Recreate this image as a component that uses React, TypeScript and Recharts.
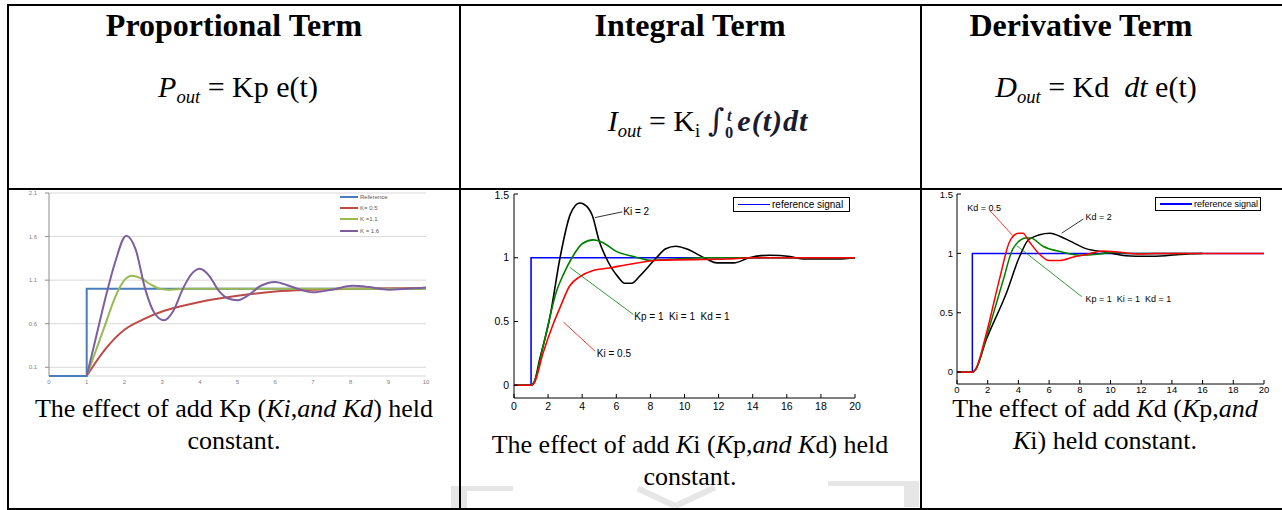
import React from 'react';
import { LineChart, Line, XAxis, YAxis, CartesianGrid, Legend, ReferenceLine, ReferenceDot } from 'recharts';

// ---- Proportional term (Excel style), x 0..10
const pXTicks = [0, 1, 2, 3, 4, 5, 6, 7, 8, 9, 10];
const pYTicks = [0.1, 0.6, 1.1, 1.6, 2.1];
const pReference = [[0, 0], [1, 0], [1, 1], [10, 1]];
const pK05 = [[1, 0], [1.5, 0.31], [2, 0.53], [2.5, 0.65], [3, 0.74], [3.5, 0.8], [4, 0.85], [5, 0.92], [6, 0.97], [7, 0.99], [8, 1.0], [10, 1.01]];
const pK11 = [[1, 0], [1.25, 0.3], [1.5, 0.6], [1.75, 0.9], [2, 1.1], [2.2, 1.15], [2.45, 1.12], [2.7, 1.05], [2.95, 1.0], [3.2, 0.99], [3.6, 1.0], [10, 1.0]];
const pK16 = [[1, 0], [1.25, 0.45], [1.5, 0.9], [1.75, 1.3], [2.05, 1.61], [2.3, 1.45], [2.55, 1.0], [2.8, 0.72], [3.05, 0.64], [3.3, 0.75], [3.55, 1.0], [3.8, 1.18], [4.0, 1.23], [4.25, 1.15], [4.5, 0.98], [4.75, 0.89], [5.0, 0.87], [5.3, 0.93], [5.6, 1.03], [6.0, 1.08], [6.4, 1.03], [7.0, 0.96], [7.5, 0.99], [8.05, 1.035], [8.5, 1.02], [9.0, 0.99], [9.5, 1.0], [10, 1.015]];
const pLegendNames = ['Reference', 'K= 0.5', 'K =1.1', 'K = 1.6'];
const pColors = ['#4A7EBB', '#BE4B48', '#98B954', '#7D5FA0'];

// ---- Integral term (MATLAB style), x 0..20
const iXTicks = [0, 2, 4, 6, 8, 10, 12, 14, 16, 18, 20];
const iYTicks = [0, 0.5, 1, 1.5];
const iReference = [[0, 0], [1, 0], [1, 1], [20, 1]];
const iKi2 = [[0, 0], [1, 0], [1.2, 0.03], [1.5, 0.2], [2.1, 0.53], [2.7, 1.0], [3.3, 1.34], [3.85, 1.43], [4.1, 1.42], [4.6, 1.33], [5.0, 1.13], [5.4, 1.0], [6.1, 0.85], [6.5, 0.8], [6.9, 0.8], [7.4, 0.86], [8.35, 1.0], [8.9, 1.07], [9.5, 1.09], [10.1, 1.07], [11.3, 0.99], [11.9, 0.96], [12.9, 0.96], [13.8, 1.0], [15, 1.02], [16.2, 1.01], [17, 0.99], [19, 0.99], [20, 1.0]];
const iKi1 = [[0, 0], [1, 0], [1.2, 0.03], [1.7, 0.3], [2.5, 0.74], [2.9, 0.87], [3.4, 1.0], [4.0, 1.11], [4.64, 1.14], [5.2, 1.12], [6.0, 1.05], [7.0, 1.01], [8.0, 0.98], [9.5, 0.99], [11, 1.0], [20, 1.0]];
const iKi05 = [[0, 0], [1, 0], [1.2, 0.02], [1.7, 0.25], [2.3, 0.48], [2.7, 0.61], [3.27, 0.78], [3.85, 0.85], [4.64, 0.9], [5.6, 0.92], [6.6, 0.945], [8.55, 0.98], [12.5, 0.99], [14, 1.0], [20, 1.0]];

// ---- Derivative term (MATLAB style), x 0..20
const dXTicks = [0, 2, 4, 6, 8, 10, 12, 14, 16, 18, 20];
const dYTicks = [0, 0.5, 1, 1.5];
const dReference = [[0, 0], [1, 0], [1, 1], [20, 1]];
const dKd2 = [[0, 0], [1, 0], [1.2, 0.02], [1.9, 0.27], [3.2, 0.66], [4.1, 0.98], [4.7, 1.12], [6.05, 1.17], [7.1, 1.12], [8.4, 1.04], [9.7, 1.01], [11, 0.98], [12.3, 0.975], [13.6, 0.98], [15, 0.995], [16, 1.0]];
const dKd1 = [[0, 0], [1, 0], [1.2, 0.02], [1.9, 0.29], [3.0, 0.77], [3.65, 1.04], [4.5, 1.13], [4.8, 1.13], [5.6, 1.06], [6.9, 1.01], [8.0, 0.985], [9.3, 0.995], [10.2, 1.01], [11, 1.0], [16, 1.0]];
const dKd05 = [[0, 0], [1, 0], [1.2, 0.02], [1.9, 0.32], [2.8, 0.8], [3.43, 1.1], [4.0, 1.17], [4.3, 1.17], [4.7, 1.1], [5.4, 0.99], [6.0, 0.94], [6.7, 0.94], [7.6, 0.97], [8.4, 0.99], [9.5, 1.02], [10.6, 1.01], [11.9, 0.995], [13, 1.0], [20, 1.0]];

const toPts = (rows: number[][]) => rows.map(([x, y]) => ({ x, y }));

const serif = '"Liberation Serif", "Times New Roman", serif';
const sans = '"Liberation Sans", Arial, sans-serif';
const mathInk = '#1b1b2e';

const Sub = ({ children, italic = true }: { children: React.ReactNode; italic?: boolean }) => (
  <span style={{ fontSize: '0.62em', fontStyle: italic ? 'italic' : 'normal', position: 'relative', top: '0.3em' }}>{children}</span>
);
const M = ({ children }: { children: React.ReactNode }) => <span style={{ fontStyle: 'italic' }}>{children}</span>;

const Center = ({ cx, top, size, bold, children, lh }: { cx: number; top: number; size: number; bold?: boolean; lh?: number; children: React.ReactNode }) => (
  <div
    style={{
      position: 'absolute',
      left: cx - 250,
      width: 500,
      top,
      textAlign: 'center',
      fontFamily: serif,
      fontSize: size,
      fontWeight: bold ? 'bold' : 'normal',
      lineHeight: `${lh ?? size}px`,
      whiteSpace: 'nowrap',
      color: '#000',
    }}
  >
    {children}
  </div>
);

const ExcelLegend = () => (
  <div style={{ fontFamily: sans, fontSize: 6, color: '#595959' }}>
    {pLegendNames.map((name, i) => (
      <div key={name} style={{ display: 'flex', alignItems: 'center', height: 11.3 }}>
        <div style={{ width: 18, height: 2, background: pColors[i], marginRight: 2 }} />
        <span>{name}</span>
      </div>
    ))}
  </div>
);

const MatlabLegend = ({ w, size, line }: { w: number; size: number; line: number }) => (
  <div
    style={{
      width: w,
      height: size + 5,
      border: '1px solid #000',
      background: '#fff',
      boxSizing: 'border-box',
      display: 'flex',
      alignItems: 'center',
      fontFamily: sans,
      fontSize: size,
      color: '#000',
    }}
  >
    <div style={{ width: line, height: 1.5, background: '#0000FF', marginLeft: 4, marginRight: 2 }} />
    <span>reference signal</span>
  </div>
);

const ProportionalChart = () => (
  <LineChart width={440} height={212} margin={{ top: 5, right: 14, left: 9, bottom: 4 }}>
    <CartesianGrid vertical={false} stroke="#d9d9d9" />
    <XAxis type="number" dataKey="x" domain={[0, 10]} ticks={pXTicks} axisLine={false} tickLine={false} tickSize={0} tickMargin={4} height={20} tick={{ fontSize: 6, fill: '#7f7f7f', fontFamily: sans }} />
    <YAxis type="number" domain={[0, 2.1]} ticks={pYTicks} width={40} axisLine={{ stroke: '#8c8c8c' }} tickLine={{ stroke: '#8c8c8c' }} tickSize={4} tickMargin={8} tick={{ fontSize: 6, fill: '#7f7f7f', fontFamily: sans }} />
    <Legend layout="vertical" align="center" verticalAlign="middle" wrapperStyle={{ left: 340, top: 3, width: 80 }} content={() => <ExcelLegend />} />
    <Line data={toPts(pReference)} dataKey="y" type="linear" stroke={pColors[0]} strokeWidth={2} dot={false} isAnimationActive={false} />
    <Line data={toPts(pK05)} dataKey="y" type="monotone" stroke={pColors[1]} strokeWidth={2} dot={false} isAnimationActive={false} />
    <Line data={toPts(pK11)} dataKey="y" type="monotone" stroke={pColors[2]} strokeWidth={2} dot={false} isAnimationActive={false} />
    <Line data={toPts(pK16)} dataKey="y" type="monotone" stroke={pColors[3]} strokeWidth={2} dot={false} isAnimationActive={false} />
  </LineChart>
);

const frameAxes = (xTicks: number[], yTicks: number[], font: number, xMargin: number, yMargin: number, yWidth: number, xHeight: number) => [
  <XAxis key="xb" type="number" dataKey="x" domain={[0, 20]} ticks={xTicks} height={xHeight} axisLine={{ stroke: '#000' }} tickLine={{ stroke: '#000' }} tickSize={-4} tickMargin={xMargin} tick={{ fontSize: font, fill: '#000', fontFamily: sans }} />,
  <XAxis key="xt" xAxisId="top" orientation="top" type="number" dataKey="x" domain={[0, 20]} ticks={xTicks} height={0} axisLine={{ stroke: '#000' }} tickLine={{ stroke: '#000' }} tickSize={-4} tick={false} />,
  <YAxis key="yl" type="number" domain={[-0.1, 1.5]} ticks={yTicks} width={yWidth} axisLine={{ stroke: '#000' }} tickLine={{ stroke: '#000' }} tickSize={-4} tickMargin={yMargin} tick={{ fontSize: font, fill: '#000', fontFamily: sans }} />,
  <YAxis key="yr" yAxisId="right" orientation="right" type="number" domain={[-0.1, 1.5]} ticks={yTicks} width={0} axisLine={{ stroke: '#000' }} tickLine={{ stroke: '#000' }} tickSize={-4} tick={false} />,
];

const annot = (x: number, y: number, text: string, font: number) => (
  <ReferenceDot x={x} y={y} r={0} fill="none" stroke="none" label={{ value: text, position: 'right', offset: 1, fontSize: font, fill: '#000', fontFamily: sans }} />
);

const IntegralChart = () => (
  <LineChart width={410} height={225} margin={{ top: 4, right: 15, left: 14, bottom: 2 }}>
    {frameAxes(iXTicks, iYTicks, 10.5, 9, 9, 40, 15)}
    <Legend layout="vertical" align="center" verticalAlign="middle" wrapperStyle={{ left: 273, top: 7, width: 117 }} content={() => <MatlabLegend w={117} size={10} line={32} />} />
    <Line data={toPts(iReference)} dataKey="y" type="linear" stroke="#0000FF" strokeWidth={1.6} dot={false} isAnimationActive={false} />
    <Line data={toPts(iKi2)} dataKey="y" type="monotone" stroke="#000000" strokeWidth={1.6} dot={false} isAnimationActive={false} />
    <Line data={toPts(iKi1)} dataKey="y" type="monotone" stroke="#008000" strokeWidth={1.6} dot={false} isAnimationActive={false} />
    <Line data={toPts(iKi05)} dataKey="y" type="monotone" stroke="#FF0000" strokeWidth={1.6} dot={false} isAnimationActive={false} />
    <ReferenceLine segment={[{ x: 4.75, y: 1.315 }, { x: 6.35, y: 1.36 }]} stroke="#000" strokeWidth={0.8} />
    <ReferenceLine segment={[{ x: 3.28, y: 0.924 }, { x: 7.0, y: 0.555 }]} stroke="#008000" strokeWidth={0.8} />
    <ReferenceLine segment={[{ x: 2.9, y: 0.495 }, { x: 4.75, y: 0.268 }]} stroke="#FF0000" strokeWidth={0.8} />
    {annot(6.35, 1.36, 'Ki = 2', 10)}
    {annot(7.0, 0.54, 'Kp = 1\u00a0 Ki = 1\u00a0 Kd = 1', 10)}
    {annot(4.8, 0.248, 'Ki = 0.5', 10)}
  </LineChart>
);

const DerivativeChart = () => (
  <LineChart width={355} height={205} margin={{ top: 4, right: 13, left: 5, bottom: 1 }}>
    {frameAxes(dXTicks, dYTicks, 9.5, 6, 8, 30, 10)}
    <Legend layout="vertical" align="center" verticalAlign="middle" wrapperStyle={{ left: 233, top: 7, width: 106 }} content={() => <MatlabLegend w={106} size={9} line={32} />} />
    <Line data={toPts(dReference)} dataKey="y" type="linear" stroke="#0000FF" strokeWidth={1.5} dot={false} isAnimationActive={false} />
    <Line data={toPts(dKd2)} dataKey="y" type="monotone" stroke="#000000" strokeWidth={1.5} dot={false} isAnimationActive={false} />
    <Line data={toPts(dKd1)} dataKey="y" type="monotone" stroke="#008000" strokeWidth={1.5} dot={false} isAnimationActive={false} />
    <Line data={toPts(dKd05)} dataKey="y" type="monotone" stroke="#FF0000" strokeWidth={1.5} dot={false} isAnimationActive={false} />
    <ReferenceLine segment={[{ x: 2.15, y: 1.36 }, { x: 3.63, y: 1.15 }]} stroke="#FF0000" strokeWidth={0.8} />
    <ReferenceLine segment={[{ x: 6.82, y: 1.17 }, { x: 8.23, y: 1.29 }]} stroke="#000" strokeWidth={0.8} />
    <ReferenceLine segment={[{ x: 3.89, y: 1.065 }, { x: 8.12, y: 0.636 }]} stroke="#008000" strokeWidth={0.8} />
    {annot(0.6, 1.386, 'Kd = 0.5', 9)}
    {annot(8.3, 1.31, 'Kd = 2', 9)}
    {annot(8.3, 0.617, 'Kp = 1\u00a0 Ki = 1\u00a0 Kd = 1', 9)}
  </LineChart>
);

const line = (style: React.CSSProperties) => <div style={{ position: 'absolute', background: '#000', ...style }} />;
const mark = (style: React.CSSProperties) => <div style={{ position: 'absolute', background: '#e6e6e6', ...style }} />;

export default function App() {
  return (
    <div style={{ position: 'absolute', left: 0, top: 0, width: 1282, height: 510, background: '#fff', overflow: 'hidden' }}>
      {/* faint watermark */}
      {mark({ left: 451, top: 486, width: 62, height: 5 })}
      {mark({ left: 451, top: 486, width: 16, height: 24 })}
      {mark({ left: 636, top: 494, width: 40, height: 6, transform: 'rotate(25deg)' })}
      {mark({ left: 672, top: 494, width: 45, height: 6, transform: 'rotate(-25deg)' })}
      {mark({ left: 828, top: 481, width: 90, height: 5 })}
      {mark({ left: 904, top: 481, width: 15, height: 26 })}

      {/* table rules */}
      {line({ left: 7, top: 4, width: 1280, height: 2 })}
      {line({ left: 7, top: 188, width: 1280, height: 2 })}
      {line({ left: 7, top: 508, width: 1280, height: 2 })}
      {line({ left: 7, top: 4, width: 2, height: 506 })}
      {line({ left: 459, top: 4, width: 2, height: 506 })}
      {line({ left: 920, top: 4, width: 2, height: 506 })}

      {/* headers */}
      <Center cx={234} top={9} size={32} bold>Proportional Term</Center>
      <Center cx={690} top={9} size={32} bold>Integral Term</Center>
      <Center cx={1081} top={9} size={32} bold>Derivative Term</Center>

      {/* formulas */}
      <Center cx={238} top={72} size={30}>
        <M>P</M><Sub>out</Sub> = Kp e(t)
      </Center>
      <Center cx={708} top={105} size={30}>
        <M>I</M><Sub>out</Sub> = K<Sub italic={false}>i</Sub>{' '}
        <span style={{ fontFamily: '"DejaVu Serif", serif', fontSize: '1.05em', color: mathInk, fontStyle: 'italic' }}>∫</span>
        <span style={{ display: 'inline-block', verticalAlign: 'middle', fontSize: '0.55em', lineHeight: '1.05em', marginRight: 4, marginLeft: 1, fontWeight: 'bold', color: mathInk }}>
          <span style={{ display: 'block', fontStyle: 'italic' }}>t</span>
          <span style={{ display: 'block' }}>0</span>
        </span>
        <span style={{ fontStyle: 'italic', fontWeight: 'bold', color: mathInk, letterSpacing: 1 }}>e(t)dt</span>
      </Center>
      <Center cx={1096} top={72} size={30}>
        <M>D</M><Sub>out</Sub> = Kd{'\u00a0 '}<M>dt</M> e(t)
      </Center>

      {/* charts */}
      <div style={{ position: 'absolute', left: 0, top: 188 }}>
        <ProportionalChart />
      </div>
      <div style={{ position: 'absolute', left: 460, top: 190 }}>
        <IntegralChart />
      </div>
      <div style={{ position: 'absolute', left: 922, top: 190 }}>
        <DerivativeChart />
      </div>

      {/* captions */}
      <Center cx={234} top={393} size={26} lh={32}>
        The effect of add Kp (<M>Ki</M>,<M>and Kd</M>) held<br />constant.
      </Center>
      <Center cx={690} top={429} size={26} lh={32}>
        The effect of add <M>K</M>i (<M>K</M>p,<M>and K</M>d) held<br />constant.
      </Center>
      <Center cx={1105} top={393} size={26} lh={32}>
        The effect of add <M>K</M>d (<M>K</M>p,<M>and</M><br /><M>K</M>i) held constant.
      </Center>
    </div>
  );
}
